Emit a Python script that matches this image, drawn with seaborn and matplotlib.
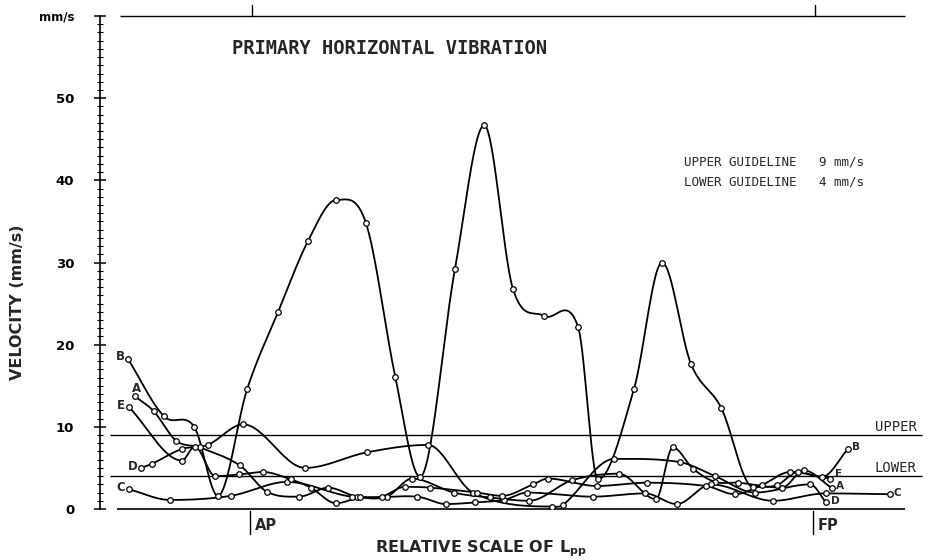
import numpy as np
import pandas as pd
import matplotlib
matplotlib.use("Agg")
import matplotlib.pyplot as plt
import seaborn as sns

# ---------------- data (x: relative scale of Lpp, AP = 0, FP = 10) -------------
B_x = [-2.17, -1.53, -0.99, -0.57, -0.05, 0.50, 1.03, 1.53, 2.06, 2.58, 3.02, 3.64,
       4.16, 4.67, 5.22, 5.83, 6.18, 6.82, 7.32, 7.83, 8.37, 8.93, 9.36, 9.73, 10.16, 10.62]
B_y = [18.3, 11.3, 10.0, 1.6, 14.6, 24.0, 32.6, 37.6, 34.8, 16.1, 3.9, 29.2,
       46.7, 26.8, 23.5, 22.1, 3.6, 14.6, 30.0, 17.7, 12.3, 2.7, 2.9, 4.5, 3.9, 7.3]

A_x = [-2.04, -1.71, -1.31, -0.89, -0.18, 0.30, 0.87, 1.39, 1.90, 2.43, 2.88, 3.62,
       4.26, 4.96, 5.72, 6.55, 7.21, 7.51, 7.87, 8.26, 8.67, 9.45, 9.84, 10.34]
A_y = [13.7, 11.9, 8.3, 7.5, 5.3, 2.1, 1.5, 2.6, 1.5, 1.5, 3.7, 2.0,
       1.4, 1.0, 3.5, 4.3, 1.2, 7.5, 4.9, 3.3, 3.2, 2.6, 4.7, 2.5]

E_x = [-2.15, -1.21, -0.98, -0.62, -0.20, 0.23, 0.73, 1.08, 1.53, 1.95, 2.34, 2.75,
       3.20, 4.03, 4.48, 5.03, 5.29, 6.16, 7.05, 8.10, 8.61, 9.09, 9.59, 10.30]
E_y = [12.4, 5.9, 7.6, 4.0, 4.2, 4.5, 3.6, 2.6, 0.7, 1.4, 1.5, 2.7,
       2.6, 2.0, 1.6, 3.0, 3.7, 2.8, 3.2, 2.8, 1.8, 2.9, 4.5, 3.7]

D_x = [-1.94, -1.74, -1.21, -0.75, -0.12, 0.98, 2.08, 3.16, 3.96, 5.36, 5.56, 6.47,
       7.64, 8.26, 8.97, 9.95, 10.23]
D_y = [5.0, 5.5, 7.3, 7.8, 10.3, 5.0, 6.9, 7.8, 2.0, 0.3, 0.5, 6.1,
       5.7, 4.0, 2.0, 3.0, 0.8]

C_x = [-2.15, -1.42, -0.34, 0.66, 1.81, 2.97, 3.48, 4.00, 4.51, 4.92, 6.09, 7.02,
       7.58, 8.19, 9.29, 10.23, 11.37]
C_y = [2.4, 1.1, 1.6, 3.3, 1.5, 1.5, 0.6, 0.8, 1.1, 2.0, 1.5, 1.9,
       0.6, 3.0, 1.0, 1.9, 1.8]

series_names = ["A", "B", "C", "D", "E"]
series_x = [A_x, B_x, C_x, D_x, E_x]
series_y = [A_y, B_y, C_y, D_y, E_y]

upper_guideline = 9
lower_guideline = 4
y_ticks = [0, 10, 20, 30, 40, 50, 60]
y_ticklabels = ["0", "10", "20", "30", "40", "50", "mm/s"]
x_marks = [0, 10]
x_marklabels = ["AP", "FP"]


def smooth(xs, ys, n=30):
    """Hermite curve through the measured points (zero slope at local extremes)."""
    xs = np.asarray(xs, float)
    ys = np.asarray(ys, float)
    m = np.empty_like(ys)
    m[1:-1] = (ys[2:] - ys[:-2]) / (xs[2:] - xs[:-2])
    ext = (ys[1:-1] - ys[:-2]) * (ys[2:] - ys[1:-1]) < 0
    m[1:-1][ext] *= 0.0
    m[0] = (ys[1] - ys[0]) / (xs[1] - xs[0])
    m[-1] = (ys[-1] - ys[-2]) / (xs[-1] - xs[-2])
    ox, oy = [], []
    t = np.linspace(0, 1, n, endpoint=False)
    h00 = 2 * t**3 - 3 * t**2 + 1
    h10 = t**3 - 2 * t**2 + t
    h01 = -2 * t**3 + 3 * t**2
    h11 = t**3 - t**2
    for i in range(len(xs) - 1):
        h = xs[i + 1] - xs[i]
        ox.append(xs[i] + t * h)
        oy.append(h00 * ys[i] + h10 * h * m[i] + h01 * ys[i + 1] + h11 * h * m[i + 1])
    ox.append([xs[-1]])
    oy.append([ys[-1]])
    return np.concatenate(ox), np.concatenate(oy)


pts = pd.concat([pd.DataFrame({"series": s, "x": x, "y": y})
                 for s, x, y in zip(series_names, series_x, series_y)], ignore_index=True)
curves = []
for s, x, y in zip(series_names, series_x, series_y):
    cx, cy = smooth(x, y)
    curves.append(pd.DataFrame({"series": s, "x": cx, "y": cy}))
curves = pd.concat(curves, ignore_index=True)

# ---------------- figure ----------------
sns.set_style("white")
plt.rcParams["font.family"] = ["DejaVu Sans"]

fig = plt.figure(figsize=(9.3, 5.6), dpi=100)
ax = fig.add_axes([100 / 930, 51 / 560, 822 / 930, 493 / 560])
ax.set_xlim(-2.664, 11.936)
ax.set_ylim(0, 60)

sns.lineplot(data=curves, x="x", y="y", units="series", estimator=None, sort=False,
             color="black", lw=1.3, ax=ax, legend=False, zorder=3)
sns.scatterplot(data=pts, x="x", y="y", marker="o", s=16, facecolor="white",
                edgecolor="black", linewidth=0.9, ax=ax, legend=False, zorder=4)
for ln in ax.lines:
    ln.set_clip_on(False)

# guidelines and baseline
ax.hlines([upper_guideline, lower_guideline], -2.49, 11.94, color="black", lw=1.0, zorder=2,
          clip_on=False)
ax.hlines(0, -2.36, 11.63, color="black", lw=1.2, clip_on=False)
ax.hlines(60, -2.31, 11.63, color="black", lw=1.0, clip_on=False)
for xm in x_marks:
    ax.plot([xm + 0.04, xm + 0.04], [60, 61.3], color="black", lw=1.0, clip_on=False)
for xm, lab in zip(x_marks, x_marklabels):
    ax.plot([xm, xm], [-0.3, -3.0], color="black", lw=1.0, clip_on=False)
    ax.text(xm + 0.08, -2.0, lab, fontsize=10.5, fontweight="bold", va="center", ha="left")

ax.text(11.10, upper_guideline + 0.1, "UPPER", family="DejaVu Sans Mono", fontsize=10,
        va="bottom", ha="left")
ax.text(11.10, lower_guideline + 0.1, "LOWER", family="DejaVu Sans Mono", fontsize=10,
        va="bottom", ha="left")

# series labels
lab_left = {"B": (-2.31, 18.6), "A": (-2.01, 14.7), "E": (-2.29, 12.6), "D": (-2.08, 5.2),
            "C": (-2.29, 2.6)}
lab_right = {"B": (10.76, 7.6), "E": (10.45, 4.3), "A": (10.47, 2.75), "D": (10.40, 1.0),
             "C": (11.49, 2.0)}
for k, (xx, yy) in lab_left.items():
    ax.text(xx, yy, k, fontsize=8.5, fontweight="bold", ha="center", va="center")
for k, (xx, yy) in lab_right.items():
    ax.text(xx, yy, k, fontsize=7.5, fontweight="bold", ha="center", va="center")

# axes styling
for sp in ["top", "right", "bottom"]:
    ax.spines[sp].set_visible(False)
ax.spines["left"].set_linewidth(1.2)
ax.spines["left"].set_color("black")
ax.set_yticks(y_ticks)
ax.set_yticklabels(y_ticklabels)
ax.set_yticks(np.arange(0, 61, 1), minor=True)
ax.tick_params(axis="y", which="both", left=True)
ax.tick_params(axis="y", which="major", direction="inout", length=9, width=1.1,
               labelsize=9.5, pad=14, colors="black")
ax.tick_params(axis="y", which="minor", direction="inout", length=5, width=0.8,
               colors="black")
for lbl in ax.get_yticklabels():
    lbl.set_fontweight("bold")
ax.get_yticklabels()[-1].set_fontsize(8.5)
ax.set_xticks([])
ax.set_xlabel("")
ax.set_ylabel("")

fig.text(232 / 930, 1 - 48 / 560, "PRIMARY HORIZONTAL VIBRATION", family="DejaVu Sans Mono",
         fontsize=13.5, fontweight="bold", va="center", ha="left")
fig.text(684 / 930, 1 - 162 / 560, "UPPER GUIDELINE   9 mm/s", family="DejaVu Sans Mono",
         fontsize=9, va="center", ha="left")
fig.text(684 / 930, 1 - 182 / 560, "LOWER GUIDELINE   4 mm/s", family="DejaVu Sans Mono",
         fontsize=9, va="center", ha="left")
fig.text(18 / 930, 1 - 302 / 560, "VELOCITY (mm/s)", rotation=90, fontsize=11.5,
         fontweight="bold", va="center", ha="center")
fig.text(481 / 930, 1 - 549 / 560, r"RELATIVE SCALE OF L$_{\mathregular{pp}}$", fontsize=11.5,
         fontweight="bold", va="center", ha="center")

fig.savefig("out.png", dpi=100, facecolor="white")
